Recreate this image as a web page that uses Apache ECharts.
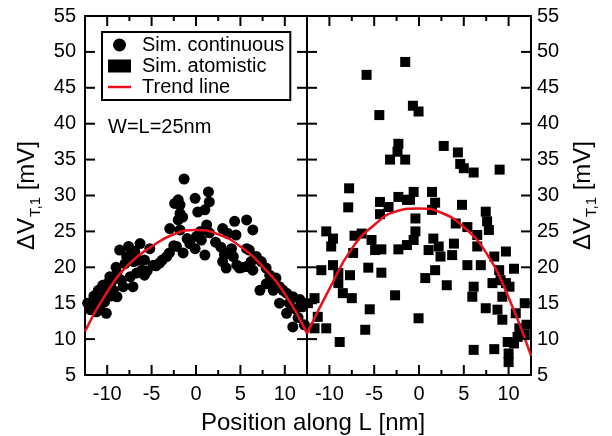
<!DOCTYPE html>
<html>
<head>
<meta charset="utf-8">
<script src="https://cdn.jsdelivr.net/npm/echarts@6/dist/echarts.min.js"></script>
<style>
html,body{margin:0;padding:0;background:#fff;}
#c{width:612px;height:436px;}
</style>
</head>
<body>
<div id="c"></div>
<script>
// ---- data ----
var majorTicksX = [-10, -5, 0, 5, 10];
var minorTicksX = [-7.5, -2.5, 2.5, 7.5];
var ticksY = [10, 15, 20, 25, 30, 35, 40, 45, 50];

var continuousPts = [
  [-1.34,32.3],[-2.0,29.4],[-1.8,28.7],[-2.4,28.9],[-0.1,29.6],[1.4,30.5],[1.5,29.1],[1.0,28.0],[0.2,27.7],[-1.8,27.5],
  [-1.5,27.0],[-2.0,26.6],[-2.95,25.4],[-1.8,25.2],[1.2,25.9],[3.0,25.4],[4.35,26.4],[5.7,26.6],[6.4,25.2],[3.6,24.7],
  [4.5,24.5],[0.05,24.3],[0.6,23.8],[-0.7,23.3],[-2.2,22.9],[-1.45,22.0],[1.0,21.7],[-3.3,21.5],[-4.1,20.6],[-4.8,20.3],
  [-0.1,22.6],[-8.6,22.4],[-7.6,22.9],[-6.3,23.3],[-5.2,22.6],[-6.9,22.2],[-7.8,21.5],[-5.8,21.0],[-9.7,18.7],[-8.9,19.2],
  [-8.4,18.2],[-7.4,18.7],[-6.7,19.2],[-6.1,19.6],[-5.8,18.9],[-7.1,17.3],[-8.2,17.3],[-9.3,16.8],[-10.1,16.4],[-10.8,15.9],
  [-11.6,15.0],[-11.9,14.1],[-10.1,13.6],[-8.9,15.9],[-10.8,14.5],[3.0,20.8],[3.4,19.9],[4.2,21.5],[4.9,19.9],[5.7,20.1],
  [6.0,22.4],[6.8,21.5],[7.35,20.8],[7.9,19.9],[8.3,18.9],[9.0,18.5],[7.2,16.8],[7.9,17.7],[8.7,16.8],[9.4,17.3],
  [10.2,16.4],[10.9,15.9],[11.7,15.5],[9.4,15.0],[10.2,13.6],[10.9,11.7],[12.0,14.5],[6.4,19.6],[4.0,22.6],[5.7,22.6],
  [-12.2,15.0],[-11.5,16.0],[-11.0,16.8],[-10.5,17.5],[-9.9,17.8],[-9.5,18.0],[-9.0,20.0],[-8.0,20.5],[-7.0,20.8],[-6.5,21.0],
  [-5.5,19.5],[-4.5,20.2],[-3.8,21.0],[-3.0,22.0],[-2.5,23.0],[-1.0,24.0],[0.5,25.0],[1.5,24.8],[2.2,23.5],[2.8,22.8],
  [3.2,21.8],[4.6,20.3],[5.2,20.0],[6.2,20.8],[8.5,18.0],[9.8,16.8],[10.5,15.0],[11.2,14.2],[11.5,13.0],[12.2,12.0],
  [-10.3,15.2],[-9.6,16.0],[-11.2,13.8]
];

var atomisticPts = [
  [-5.85,46.8],[-1.54,48.6],[-4.43,41.2],[-0.68,42.5],[-0.05,41.7],[-2.3,37.2],[-2.4,36.1],[-3.23,35.0],[-1.54,35.0],[2.76,36.9],
  [4.34,36.0],[4.6,34.4],[5.0,33.8],[6.1,33.2],[9.0,33.6],[-7.8,31.0],[-7.9,28.35],[-10.35,25.0],[-9.6,24.0],[-9.8,22.9],
  [-10.9,19.6],[-9.6,20.3],[-9.0,19.2],[-7.7,18.9],[-9.0,17.8],[-8.5,16.4],[-7.5,15.7],[-11.66,15.7],[-12.4,15.0],[-11.3,13.1],
  [-10.35,11.5],[-11.66,11.5],[-8.85,9.6],[-6.0,11.3],[-5.5,14.15],[-5.66,19.95],[-4.2,19.25],[-7.35,22.0],[-7.2,24.4],[-6.4,24.7],
  [-5.3,23.8],[-4.9,22.4],[-4.2,22.5],[-4.35,29.1],[-3.4,28.4],[-4.35,27.4],[-2.3,29.8],[-1.35,29.4],[-0.6,30.5],[-1.0,29.4],
  [1.45,30.5],[1.8,29.0],[1.45,28.0],[-0.4,26.8],[-0.4,25.0],[-0.6,23.8],[-1.35,23.1],[-2.3,22.5],[-2.67,16.1],[-0.05,12.9],
  [0.7,18.5],[1.8,19.6],[1.6,24.0],[2.2,22.9],[1.07,22.4],[2.4,21.5],[3.1,17.5],[3.7,21.7],[3.9,23.3],[4.8,28.7],
  [4.1,26.1],[5.4,25.6],[6.5,24.5],[6.5,22.9],[5.4,20.3],[6.9,20.3],[6.1,17.3],[5.95,15.9],[7.45,14.3],[7.45,27.75],
  [7.6,26.4],[7.8,25.2],[8.4,21.5],[9.7,22.2],[10.6,19.8],[8.95,19.6],[9.1,18.2],[8.2,17.8],[9.7,17.8],[10.1,17.3],
  [9.3,15.9],[8.76,14.1],[9.3,12.7],[10.8,13.6],[11.8,15.0],[9.9,9.6],[11.0,10.3],[11.8,10.6],[6.1,8.5],[8.4,8.6],
  [10.0,8.0],[10.0,6.8],[10.6,9.4],[11.2,11.5],[12.0,12.0]
];

var trendX = [-12.5, -10, -7.5, -5, -2.5, 0, 2.5, 5, 7.5, 10, 12.5];
var trendContinuous = [11.1, 16.6, 20.5, 22.9, 24.6, 25.2, 24.6, 22.9, 20.1, 16.3, 10.8];
var trendAtomistic = [10.8, 17.0, 22.6, 25.9, 27.8, 28.2, 27.6, 25.6, 22.0, 15.8, 7.7];

// ---- chart ----
var FONT = 'Liberation Sans, Arial, Helvetica, sans-serif';
var BLACK = {color:'#000', width:2};
function zip(xs, ys){ return xs.map(function(x,i){ return [x, ys[i]]; }); }

function xFrame(g, pos, labels){
  return {type:'value', gridIndex:g, position:pos, min:-12.5, max:12.5,
    axisLine:{show:true, onZero:false, lineStyle:BLACK},
    axisTick:{show:false},
    axisLabel:{show:labels, customValues:majorTicksX, fontSize:20, color:'#000', fontFamily:FONT, margin:9},
    splitLine:{show:false}};
}
var yName = '{a|ΔV}{b|T,1}{a| [mV]}';
var yRich = {
  a:{fontSize:24, fontFamily:FONT, color:'#000', lineHeight:26, verticalAlign:'top'},
  b:{fontSize:15, fontFamily:FONT, color:'#000', lineHeight:16, padding:[13,0,0,1], verticalAlign:'top'}
};
function yFrame(g, pos, labels, name){
  var o = {type:'value', gridIndex:g, position:pos, min:5, max:55, interval:5,
    axisLine:{show:true, onZero:false, lineStyle:BLACK},
    axisTick:{show:false},
    axisLabel:{show:labels, fontSize:20, color:'#000', fontFamily:FONT, margin: pos==='left'?9:6},
    splitLine:{show:false}};
  if (name){
    o.name = yName; o.nameLocation='middle'; o.nameRotate=90;
    o.nameGap = pos==='left'?44:40;
    o.nameTextStyle = {rich:yRich};
  }
  return o;
}

// tick table: [value, kind]  kind 0 = x major, 1 = x minor, 2 = y tick
var tickData = [];
majorTicksX.forEach(function(v){ tickData.push([v, 0]); });
minorTicksX.forEach(function(v){ tickData.push([v, 1]); });
ticksY.forEach(function(v){ tickData.push([v, 2]); });

function tickLine(x1,y1,x2,y2){
  return {type:'line', shape:{x1:x1,y1:y1,x2:x2,y2:y2}, style:{stroke:'#000', lineWidth:2}};
}
function renderTicks(params, api){
  var v = api.value(0), k = api.value(1);
  if (k === 2){
    var l = api.coord([-12.5, v]), r = api.coord([12.5, v]);
    return {type:'group', children:[ tickLine(l[0], l[1], l[0]+10, l[1]), tickLine(r[0], r[1], r[0]-10, r[1]) ]};
  }
  var len = k === 0 ? 10 : 5;
  var b = api.coord([v, 5]), t = api.coord([v, 55]);
  return {type:'group', children:[ tickLine(b[0], b[1], b[0], b[1]-len), tickLine(t[0], t[1], t[0], t[1]+len) ]};
}
function tickSeries(xi, yi){
  return {type:'custom', xAxisIndex:xi, yAxisIndex:yi, silent:true, clip:false, z:5,
    encode:{x:0, y:1}, renderItem:renderTicks, data:tickData};
}

var chart = echarts.init(document.getElementById('c'));
chart.setOption({
  animation:false,
  backgroundColor:'#fff',
  grid:[
    {left:85, top:16, width:222, height:359},
    {left:307, top:16, width:224, height:359}
  ],
  xAxis:[ xFrame(0,'bottom',true), xFrame(0,'top',false), xFrame(1,'bottom',true), xFrame(1,'top',false) ],
  yAxis:[ yFrame(0,'left',true,true), yFrame(0,'right',false,false), yFrame(1,'right',true,true), yFrame(1,'left',false,false) ],
  title:[
    {text:'Position along L [nm]', left:196, top:406, textStyle:{fontSize:24, fontWeight:'normal', color:'#000', fontFamily:FONT}},
    {text:'W=L=25nm', left:103, top:112, textStyle:{fontSize:20, fontWeight:'normal', color:'#000', fontFamily:FONT}}
  ],
  legend:{
    orient:'vertical', left:102, top:32,
    padding:[3,6,3,6], itemGap:1, itemWidth:23, itemHeight:13,
    borderColor:'#000', borderWidth:2, backgroundColor:'#fff', z:20,
    textStyle:{fontSize:20, color:'#000', fontFamily:FONT, padding:[0,0,0,6]},
    data:[{name:'Sim. continuous', icon:'circle'},{name:'Sim. atomistic', icon:'rect'},
          {name:'Trend line', icon:'path://M0,0H23V2.5H0Z'}]
  },
  series:[
    {name:'Sim. continuous', type:'scatter', xAxisIndex:0, yAxisIndex:0, symbol:'circle', symbolSize:11,
     itemStyle:{color:'#000', opacity:1}, data:continuousPts},
    {name:'Sim. atomistic', type:'scatter', xAxisIndex:2, yAxisIndex:2, symbol:'rect', symbolSize:10,
     itemStyle:{color:'#000', opacity:1}, data:atomisticPts},
    {name:'Trend line', type:'line', xAxisIndex:0, yAxisIndex:0, smooth:true, symbol:'none', showSymbol:false,
     lineStyle:{color:'#e8101a', width:2.5}, itemStyle:{color:'#e8101a'}, data:zip(trendX, trendContinuous)},
    {name:'Trend line', type:'line', xAxisIndex:2, yAxisIndex:2, smooth:true, symbol:'none', showSymbol:false,
     lineStyle:{color:'#e8101a', width:2.5}, itemStyle:{color:'#e8101a'}, data:zip(trendX, trendAtomistic)},
    tickSeries(0, 0),
    tickSeries(2, 2)
  ]
});
</script>
</body>
</html>
